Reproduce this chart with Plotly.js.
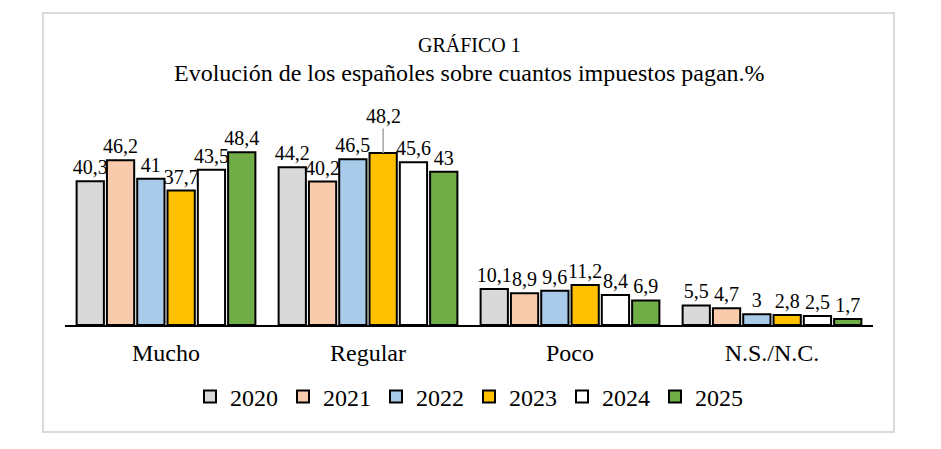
<!DOCTYPE html>
<html>
<head>
<meta charset="utf-8">
<script src="https://cdn.plot.ly/plotly-3.0.1.min.js"></script>
<style>html,body{margin:0;padding:0;background:#fff;}#chart{width:941px;height:449px;}</style>
</head>
<body>
<div id="chart"></div>
<script>
const categories = ['Mucho', 'Regular', 'Poco', 'N.S./N.C.'];
const years = ['2020', '2021', '2022', '2023', '2024', '2025'];
const v2020 = [40.3, 44.2, 10.1, 5.5];
const v2021 = [46.2, 40.2, 8.9, 4.7];
const v2022 = [41, 46.5, 9.6, 3];
const v2023 = [37.7, 48.2, 11.2, 2.8];
const v2024 = [43.5, 45.6, 8.4, 2.5];
const v2025 = [48.4, 43, 6.9, 1.7];
const colors = ['#d9d9d9', '#f8cbad', '#a9cbea', '#ffc000', '#ffffff', '#70ad47'];
const chartTitle = 'GRÁFICO 1';
const chartSubtitle = 'Evolución de los españoles sobre cuantos impuestos pagan.%';

const FAM = 'Liberation Serif';
const series = [v2020, v2021, v2022, v2023, v2024, v2025];
const fmt = v => String(v).replace('.', ',');

// label moved up with a leader line (2023, Regular)
const leader = {series: 3, cat: 1};

const traces = series.map((vals, i) => ({
  type: 'bar',
  name: years[i],
  x: categories,
  y: vals,
  text: vals.map((v, j) => (i === leader.series && j === leader.cat) ? '' : fmt(v)),
  textposition: 'outside',
  constraintext: 'none',
  cliponaxis: false,
  textfont: {family: FAM, size: 20, color: '#000'},
  marker: {color: colors[i], line: {color: '#000', width: 2}},
  hoverinfo: 'skip'
}));

const bargap = 0.1, n = series.length;
const slot = (1 - bargap) / n;
const leaderX = leader.cat - (1 - bargap) / 2 + slot * (leader.series + 0.5);

const layout = {
  width: 941, height: 449,
  margin: {l: 65, r: 68, t: 111, b: 124},
  paper_bgcolor: '#fff', plot_bgcolor: '#fff',
  barmode: 'group', bargap: bargap, bargroupgap: 0.1,
  font: {family: FAM, color: '#000'},
  showlegend: true,
  legend: {orientation: 'h', x: 0.5, xanchor: 'center', y: -0.336, yanchor: 'middle',
           font: {family: FAM, size: 24, color: '#000'}, itemwidth: 30, traceorder: 'normal'},
  xaxis: {type: 'category', showline: true, linecolor: '#000', linewidth: 2,
          ticks: '', showgrid: false, zeroline: false, tickfont: {family: FAM, size: 24, color: '#000'},
          ticklabelstandoff: 5, fixedrange: true},
  yaxis: {range: [0, 60], visible: false, showgrid: false, zeroline: false, fixedrange: true},
  shapes: [{type: 'rect', xref: 'paper', yref: 'paper',
            x0: -0.0273, x1: 1.026, y0: -0.5, y1: 1.458,
            line: {color: '#d9d9d9', width: 2}, fillcolor: 'rgba(0,0,0,0)', layer: 'below'}],
  annotations: [
    {xref: 'paper', yref: 'paper', x: 0.5, y: 1.308, text: chartTitle, showarrow: false,
     font: {family: FAM, size: 20, color: '#000'}, xanchor: 'center', yanchor: 'middle'},
    {xref: 'paper', yref: 'paper', x: 0.5, y: 1.178, text: chartSubtitle, showarrow: false,
     font: {family: FAM, size: 24, color: '#000'}, xanchor: 'center', yanchor: 'middle'},
    {x: leaderX, y: series[leader.series][leader.cat], xref: 'x', yref: 'y',
     text: fmt(series[leader.series][leader.cat]), showarrow: true, arrowhead: 0,
     arrowcolor: '#a6a6a6', arrowwidth: 1.5, ax: 0, ay: -37,
     font: {family: FAM, size: 20, color: '#000'}}
  ]
};

Plotly.newPlot('chart', traces, layout, {staticPlot: true, displayModeBar: false});
</script>
</body>
</html>
